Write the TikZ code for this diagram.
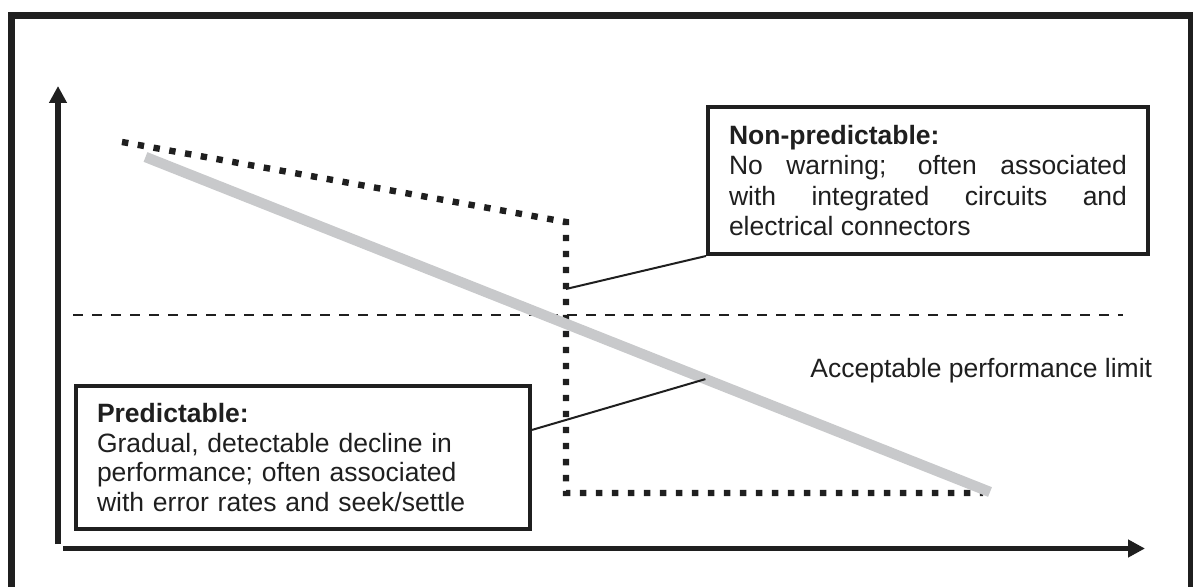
\documentclass[tikz,border=0pt]{standalone}
\usepackage{fontspec}
\setmainfont{Liberation Sans}
\usetikzlibrary{arrows.meta,positioning,calc}
\colorlet{colorFR}{black!88}
\definecolor{colorWR}{RGB}{200,201,203}
\tikzset{
   frame/.style={line width=3.5pt},
   axis/.style={-{Triangle[width=8.5pt,length=8.5pt]},line width=2.75pt},
   box/.style={draw=colorFR,text=colorFR,line width=2pt,anchor=north west,inner xsep=10.5pt,
      font=\fontsize{13.25}{14.75}\selectfont},
   lim/.style={dash pattern=on 5pt off 4.5pt,line width=1.3pt},
   fail/.style={line width=3.2pt,dash pattern=on 3.2pt off 4.8pt},
   wear/.style={line width=5.2pt,color=colorWR},
   lbl/.style={line width=1pt},
}

\begin{document}
\begin{tikzpicture}[x=0.5pt,y=-0.5pt,color=colorFR]
      \clip (0,0) rectangle (1193,587);
      \draw[frame] (11.5,15.5) rectangle (1191,620);

      % axes
      \draw[axis] (58,544) -- (58,86);
      \draw[axis] (63,548.5) -- (1145,548.5);

      % limit and the two curves
      \draw[lim] (73,315) -- (1123,315);
      \node (limtxt) [anchor=base west, inner sep=0pt, text=colorFR,
         font=\fontsize{13.25}{15}\selectfont] at (810,378)
      {Acceptable performance limit};

      \draw[fail] (122,142) -- (566,222) -- (566,493) -- (983,493);
      \coordinate (drop) at (566,289);
      \draw[wear] (145.5,157) -- coordinate[pos=0.663] (gmid) (990,492);

      \node (nonpred) [box, text width=199pt, minimum height=73.5pt, align=justify,
         font=\fontsize{13.25}{15.25}\selectfont]
      at (706,105)
      {\textbf{Non-predictable:}\\
       No warning; often associated\linebreak with integrated circuits and\linebreak electrical connectors};

      \node (pred) [box, text width=206pt, minimum height=71.25pt, align=left]
      at (74,384.5)
      {\textbf{Predictable:}\\
       Gradual, detectable decline in\\
       performance; often associated\\
       with error rates and seek/settle};

      \draw[lbl] (nonpred.south west) -- (drop);
      \draw[lbl] ($ (pred.north east)!0.31!(pred.south east) $) -- (gmid);
\end{tikzpicture}
\end{document}
